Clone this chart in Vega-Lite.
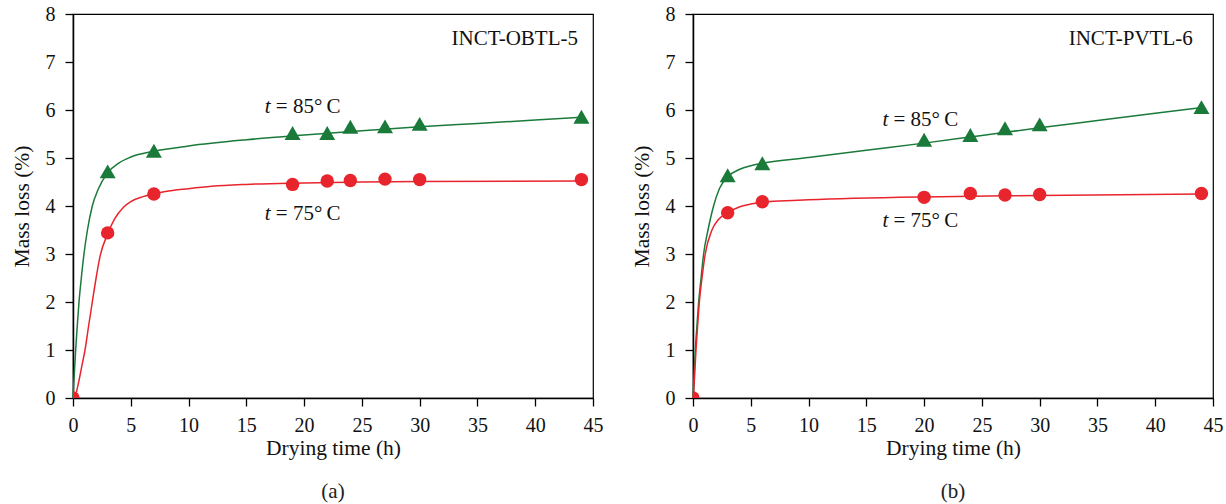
{
  "$schema": "https://vega.github.io/schema/vega-lite/v6.json",
  "background": "white",
  "padding": {"left": 10, "top": 3, "right": 10, "bottom": 2},
  "datasets": {
    "obs": [
      {"panel": "a", "temp": "85", "time": 0, "loss": 0},
      {"panel": "a", "temp": "85", "time": 3, "loss": 4.72},
      {"panel": "a", "temp": "85", "time": 7, "loss": 5.15},
      {"panel": "a", "temp": "85", "time": 19, "loss": 5.52},
      {"panel": "a", "temp": "85", "time": 22, "loss": 5.52},
      {"panel": "a", "temp": "85", "time": 24, "loss": 5.65},
      {"panel": "a", "temp": "85", "time": 27, "loss": 5.66},
      {"panel": "a", "temp": "85", "time": 30, "loss": 5.71},
      {"panel": "a", "temp": "85", "time": 44, "loss": 5.86},
      {"panel": "a", "temp": "75", "time": 0, "loss": 0},
      {"panel": "a", "temp": "75", "time": 3, "loss": 3.44},
      {"panel": "a", "temp": "75", "time": 7, "loss": 4.25},
      {"panel": "a", "temp": "75", "time": 19, "loss": 4.45},
      {"panel": "a", "temp": "75", "time": 22, "loss": 4.52},
      {"panel": "a", "temp": "75", "time": 24, "loss": 4.53},
      {"panel": "a", "temp": "75", "time": 27, "loss": 4.56},
      {"panel": "a", "temp": "75", "time": 30, "loss": 4.55},
      {"panel": "a", "temp": "75", "time": 44, "loss": 4.55},
      {"panel": "b", "temp": "85", "time": 0, "loss": 0},
      {"panel": "b", "temp": "85", "time": 3, "loss": 4.64},
      {"panel": "b", "temp": "85", "time": 6, "loss": 4.89},
      {"panel": "b", "temp": "85", "time": 20, "loss": 5.38},
      {"panel": "b", "temp": "85", "time": 24, "loss": 5.48},
      {"panel": "b", "temp": "85", "time": 27, "loss": 5.62},
      {"panel": "b", "temp": "85", "time": 30, "loss": 5.7},
      {"panel": "b", "temp": "85", "time": 44, "loss": 6.06},
      {"panel": "b", "temp": "75", "time": 0, "loss": 0},
      {"panel": "b", "temp": "75", "time": 3, "loss": 3.86},
      {"panel": "b", "temp": "75", "time": 6, "loss": 4.09},
      {"panel": "b", "temp": "75", "time": 20, "loss": 4.18},
      {"panel": "b", "temp": "75", "time": 24, "loss": 4.26},
      {"panel": "b", "temp": "75", "time": 27, "loss": 4.23},
      {"panel": "b", "temp": "75", "time": 30, "loss": 4.24},
      {"panel": "b", "temp": "75", "time": 44, "loss": 4.26}
    ],
    "fit": [
      {"panel": "a", "temp": "85", "time": 0, "loss": 0},
      {"panel": "a", "temp": "85", "time": 0.1, "loss": 0.45},
      {"panel": "a", "temp": "85", "time": 0.23, "loss": 1.0},
      {"panel": "a", "temp": "85", "time": 0.37, "loss": 1.5},
      {"panel": "a", "temp": "85", "time": 0.52, "loss": 2.0},
      {"panel": "a", "temp": "85", "time": 0.72, "loss": 2.5},
      {"panel": "a", "temp": "85", "time": 0.95, "loss": 3.0},
      {"panel": "a", "temp": "85", "time": 1.25, "loss": 3.5},
      {"panel": "a", "temp": "85", "time": 1.67, "loss": 4.0},
      {"panel": "a", "temp": "85", "time": 2.2, "loss": 4.36},
      {"panel": "a", "temp": "85", "time": 3, "loss": 4.69},
      {"panel": "a", "temp": "85", "time": 4, "loss": 4.9},
      {"panel": "a", "temp": "85", "time": 5, "loss": 5.02},
      {"panel": "a", "temp": "85", "time": 7, "loss": 5.14},
      {"panel": "a", "temp": "85", "time": 10, "loss": 5.25},
      {"panel": "a", "temp": "85", "time": 15, "loss": 5.38},
      {"panel": "a", "temp": "85", "time": 20, "loss": 5.48},
      {"panel": "a", "temp": "85", "time": 25, "loss": 5.57},
      {"panel": "a", "temp": "85", "time": 30, "loss": 5.65},
      {"panel": "a", "temp": "85", "time": 35, "loss": 5.72},
      {"panel": "a", "temp": "85", "time": 40, "loss": 5.79},
      {"panel": "a", "temp": "85", "time": 44, "loss": 5.85},
      {"panel": "a", "temp": "75", "time": 0, "loss": 0},
      {"panel": "a", "temp": "75", "time": 0.17, "loss": 0.03},
      {"panel": "a", "temp": "75", "time": 0.46, "loss": 0.3},
      {"panel": "a", "temp": "75", "time": 0.75, "loss": 0.65},
      {"panel": "a", "temp": "75", "time": 1.04, "loss": 1.0},
      {"panel": "a", "temp": "75", "time": 1.35, "loss": 1.5},
      {"panel": "a", "temp": "75", "time": 1.67, "loss": 2.0},
      {"panel": "a", "temp": "75", "time": 2.0, "loss": 2.5},
      {"panel": "a", "temp": "75", "time": 2.34, "loss": 2.95},
      {"panel": "a", "temp": "75", "time": 3, "loss": 3.42},
      {"panel": "a", "temp": "75", "time": 3.6, "loss": 3.73},
      {"panel": "a", "temp": "75", "time": 4.35, "loss": 3.97},
      {"panel": "a", "temp": "75", "time": 5, "loss": 4.09},
      {"panel": "a", "temp": "75", "time": 6, "loss": 4.19},
      {"panel": "a", "temp": "75", "time": 7, "loss": 4.25},
      {"panel": "a", "temp": "75", "time": 8, "loss": 4.3},
      {"panel": "a", "temp": "75", "time": 10, "loss": 4.36},
      {"panel": "a", "temp": "75", "time": 12, "loss": 4.41},
      {"panel": "a", "temp": "75", "time": 15, "loss": 4.45},
      {"panel": "a", "temp": "75", "time": 20, "loss": 4.48},
      {"panel": "a", "temp": "75", "time": 25, "loss": 4.5},
      {"panel": "a", "temp": "75", "time": 30, "loss": 4.51},
      {"panel": "a", "temp": "75", "time": 44, "loss": 4.52},
      {"panel": "b", "temp": "85", "time": 0, "loss": 0},
      {"panel": "b", "temp": "85", "time": 0.2, "loss": 1.0},
      {"panel": "b", "temp": "85", "time": 0.34, "loss": 1.5},
      {"panel": "b", "temp": "85", "time": 0.49, "loss": 2.0},
      {"panel": "b", "temp": "85", "time": 0.7, "loss": 2.5},
      {"panel": "b", "temp": "85", "time": 0.92, "loss": 3.0},
      {"panel": "b", "temp": "85", "time": 1.3, "loss": 3.5},
      {"panel": "b", "temp": "85", "time": 1.78, "loss": 4.0},
      {"panel": "b", "temp": "85", "time": 2.3, "loss": 4.37},
      {"panel": "b", "temp": "85", "time": 3, "loss": 4.61},
      {"panel": "b", "temp": "85", "time": 4, "loss": 4.76},
      {"panel": "b", "temp": "85", "time": 5, "loss": 4.84},
      {"panel": "b", "temp": "85", "time": 6, "loss": 4.89},
      {"panel": "b", "temp": "85", "time": 10, "loss": 5.01},
      {"panel": "b", "temp": "85", "time": 15, "loss": 5.16},
      {"panel": "b", "temp": "85", "time": 20, "loss": 5.31},
      {"panel": "b", "temp": "85", "time": 25, "loss": 5.47},
      {"panel": "b", "temp": "85", "time": 30, "loss": 5.63},
      {"panel": "b", "temp": "85", "time": 35, "loss": 5.78},
      {"panel": "b", "temp": "85", "time": 40, "loss": 5.93},
      {"panel": "b", "temp": "85", "time": 44, "loss": 6.05},
      {"panel": "b", "temp": "75", "time": 0, "loss": 0},
      {"panel": "b", "temp": "75", "time": 0.1, "loss": 0.3},
      {"panel": "b", "temp": "75", "time": 0.26, "loss": 1.0},
      {"panel": "b", "temp": "75", "time": 0.4, "loss": 1.5},
      {"panel": "b", "temp": "75", "time": 0.55, "loss": 2.0},
      {"panel": "b", "temp": "75", "time": 0.78, "loss": 2.5},
      {"panel": "b", "temp": "75", "time": 1.06, "loss": 3.0},
      {"panel": "b", "temp": "75", "time": 1.64, "loss": 3.5},
      {"panel": "b", "temp": "75", "time": 2.2, "loss": 3.72},
      {"panel": "b", "temp": "75", "time": 3, "loss": 3.86},
      {"panel": "b", "temp": "75", "time": 4, "loss": 3.98},
      {"panel": "b", "temp": "75", "time": 5, "loss": 4.04},
      {"panel": "b", "temp": "75", "time": 6, "loss": 4.08},
      {"panel": "b", "temp": "75", "time": 8, "loss": 4.11},
      {"panel": "b", "temp": "75", "time": 10, "loss": 4.13},
      {"panel": "b", "temp": "75", "time": 20, "loss": 4.19},
      {"panel": "b", "temp": "75", "time": 30, "loss": 4.22},
      {"panel": "b", "temp": "75", "time": 44, "loss": 4.25}
    ],
    "labels": [
      {"panel": "a", "kind": "name", "time": 43.7, "loss": 7.47, "label": "INCT-OBTL-5"},
      {"panel": "a", "kind": "temp", "time": 16.6, "loss": 6.07, "label": "= 85°\u2009C"},
      {"panel": "a", "kind": "temp", "time": 16.6, "loss": 3.83, "label": "= 75°\u2009C"},
      {"panel": "b", "kind": "name", "time": 43.25, "loss": 7.47, "label": "INCT-PVTL-6"},
      {"panel": "b", "kind": "temp", "time": 16.4, "loss": 5.8, "label": "= 85°\u2009C"},
      {"panel": "b", "kind": "temp", "time": 16.4, "loss": 3.68, "label": "= 75°\u2009C"}
    ]
  },
  "bounds": "flush",
  "spacing": 100,
  "hconcat": [
    {
      "width": 520,
      "height": 384,
      "title": {"text": "(a)", "orient": "bottom", "offset": 22},
      "layer": [
        {
          "data": {"name": "fit"},
          "transform": [{"filter": "datum.panel == 'a'"}],
          "mark": {"type": "line", "interpolate": "monotone", "strokeWidth": 1.5},
          "encoding": {
            "x": {"field": "time", "type": "quantitative", "scale": {"domain": [0, 45], "nice": false}, "title": "Drying time (h)"},
            "y": {"field": "loss", "type": "quantitative", "scale": {"domain": [0, 8], "nice": false}, "title": "Mass loss (%)"},
            "color": {"field": "temp", "type": "nominal", "scale": {"domain": ["75", "85"], "range": ["#e8242c", "#1a7a3a"]}, "legend": null}
          }
        },
        {
          "data": {"name": "obs"},
          "transform": [{"filter": "datum.panel == 'a'"}],
          "mark": {"type": "point", "filled": true, "opacity": 1, "clip": true},
          "encoding": {
            "x": {"field": "time", "type": "quantitative"},
            "y": {"field": "loss", "type": "quantitative"},
            "color": {"field": "temp", "type": "nominal", "legend": null},
            "shape": {"field": "temp", "type": "nominal", "scale": {"domain": ["75", "85"], "range": ["circle", "triangle-up"]}, "legend": null},
            "size": {"field": "temp", "type": "nominal", "scale": {"domain": ["75", "85"], "range": [180, 256]}, "legend": null},
            "order": {"field": "temp", "sort": "descending"}
          }
        },
        {
          "data": {"name": "labels"},
          "transform": [{"filter": "datum.panel == 'a' && datum.kind == 'name'"}],
          "mark": {"type": "text", "align": "right", "baseline": "middle", "font": "Liberation Serif", "fontSize": 21, "color": "#111"},
          "encoding": {"x": {"field": "time", "type": "quantitative"}, "y": {"field": "loss", "type": "quantitative"}, "text": {"field": "label"}}
        },
        {
          "data": {"name": "labels"},
          "transform": [{"filter": "datum.panel == 'a' && datum.kind == 'temp'"}],
          "mark": {"type": "text", "align": "left", "baseline": "middle", "font": "Liberation Serif", "fontSize": 21, "fontStyle": "italic", "color": "#111", "text": "t"},
          "encoding": {"x": {"field": "time", "type": "quantitative"}, "y": {"field": "loss", "type": "quantitative"}}
        },
        {
          "data": {"name": "labels"},
          "transform": [{"filter": "datum.panel == 'a' && datum.kind == 'temp'"}],
          "mark": {"type": "text", "align": "left", "baseline": "middle", "font": "Liberation Serif", "fontSize": 21, "color": "#111", "dx": 11},
          "encoding": {"x": {"field": "time", "type": "quantitative"}, "y": {"field": "loss", "type": "quantitative"}, "text": {"field": "label"}}
        }
      ]
    },
    {
      "width": 520,
      "height": 384,
      "title": {"text": "(b)", "orient": "bottom", "offset": 22},
      "layer": [
        {
          "data": {"name": "fit"},
          "transform": [{"filter": "datum.panel == 'b'"}],
          "mark": {"type": "line", "interpolate": "monotone", "strokeWidth": 1.5},
          "encoding": {
            "x": {"field": "time", "type": "quantitative", "scale": {"domain": [0, 45], "nice": false}, "title": "Drying time (h)"},
            "y": {"field": "loss", "type": "quantitative", "scale": {"domain": [0, 8], "nice": false}, "title": "Mass loss (%)"},
            "color": {"field": "temp", "type": "nominal", "scale": {"domain": ["75", "85"], "range": ["#e8242c", "#1a7a3a"]}, "legend": null}
          }
        },
        {
          "data": {"name": "obs"},
          "transform": [{"filter": "datum.panel == 'b'"}],
          "mark": {"type": "point", "filled": true, "opacity": 1, "clip": true},
          "encoding": {
            "x": {"field": "time", "type": "quantitative"},
            "y": {"field": "loss", "type": "quantitative"},
            "color": {"field": "temp", "type": "nominal", "legend": null},
            "shape": {"field": "temp", "type": "nominal", "scale": {"domain": ["75", "85"], "range": ["circle", "triangle-up"]}, "legend": null},
            "size": {"field": "temp", "type": "nominal", "scale": {"domain": ["75", "85"], "range": [180, 256]}, "legend": null},
            "order": {"field": "temp", "sort": "descending"}
          }
        },
        {
          "data": {"name": "labels"},
          "transform": [{"filter": "datum.panel == 'b' && datum.kind == 'name'"}],
          "mark": {"type": "text", "align": "right", "baseline": "middle", "font": "Liberation Serif", "fontSize": 21, "color": "#111"},
          "encoding": {"x": {"field": "time", "type": "quantitative"}, "y": {"field": "loss", "type": "quantitative"}, "text": {"field": "label"}}
        },
        {
          "data": {"name": "labels"},
          "transform": [{"filter": "datum.panel == 'b' && datum.kind == 'temp'"}],
          "mark": {"type": "text", "align": "left", "baseline": "middle", "font": "Liberation Serif", "fontSize": 21, "fontStyle": "italic", "color": "#111", "text": "t"},
          "encoding": {"x": {"field": "time", "type": "quantitative"}, "y": {"field": "loss", "type": "quantitative"}}
        },
        {
          "data": {"name": "labels"},
          "transform": [{"filter": "datum.panel == 'b' && datum.kind == 'temp'"}],
          "mark": {"type": "text", "align": "left", "baseline": "middle", "font": "Liberation Serif", "fontSize": 21, "color": "#111", "dx": 11},
          "encoding": {"x": {"field": "time", "type": "quantitative"}, "y": {"field": "loss", "type": "quantitative"}, "text": {"field": "label"}}
        }
      ]
    }
  ],
  "config": {
    "view": {"stroke": "black", "strokeWidth": 1.2},
    "font": "Liberation Serif",
    "title": {"font": "Liberation Serif", "fontSize": 21, "fontWeight": "normal", "color": "#222"},
    "axis": {
      "grid": false,
      "domainColor": "black",
      "domainWidth": 1.5,
      "tickColor": "black",
      "tickWidth": 1.3,
      "labelColor": "#111",
      "titleColor": "#111",
      "labelFont": "Liberation Serif",
      "titleFont": "Liberation Serif",
      "labelFontSize": 20,
      "titleFontSize": 21.5,
      "titleFontWeight": "normal",
      "labelOverlap": false,
      "labelFlush": false
    },
    "axisX": {
      "values": [0,1,2,3,4,5,6,7,8,9,10,11,12,13,14,15,16,17,18,19,20,21,22,23,24,25,26,27,28,29,30,31,32,33,34,35,36,37,38,39,40,41,42,43,44,45],
      "labelExpr": "datum.value % 5 === 0 ? datum.label : ''",
      "tickSize": {"condition": {"test": "datum.value % 5 === 0", "value": 8}, "value": 4},
      "labelPadding": 9,
      "titlePadding": 2
    },
    "axisY": {
      "values": [0,0.2,0.4,0.6,0.8,1,1.2,1.4,1.6,1.8,2,2.2,2.4,2.6,2.8,3,3.2,3.4,3.6,3.8,4,4.2,4.4,4.6,4.8,5,5.2,5.4,5.6,5.8,6,6.2,6.4,6.6,6.8,7,7.2,7.4,7.6,7.8,8],
      "labelExpr": "abs(datum.value - round(datum.value)) < 0.001 ? format(datum.value, 'd') : ''",
      "tickSize": {"condition": {"test": "abs(datum.value - round(datum.value)) < 0.001", "value": 8}, "value": 4},
      "labelPadding": 10,
      "titlePadding": 12
    }
  }
}
